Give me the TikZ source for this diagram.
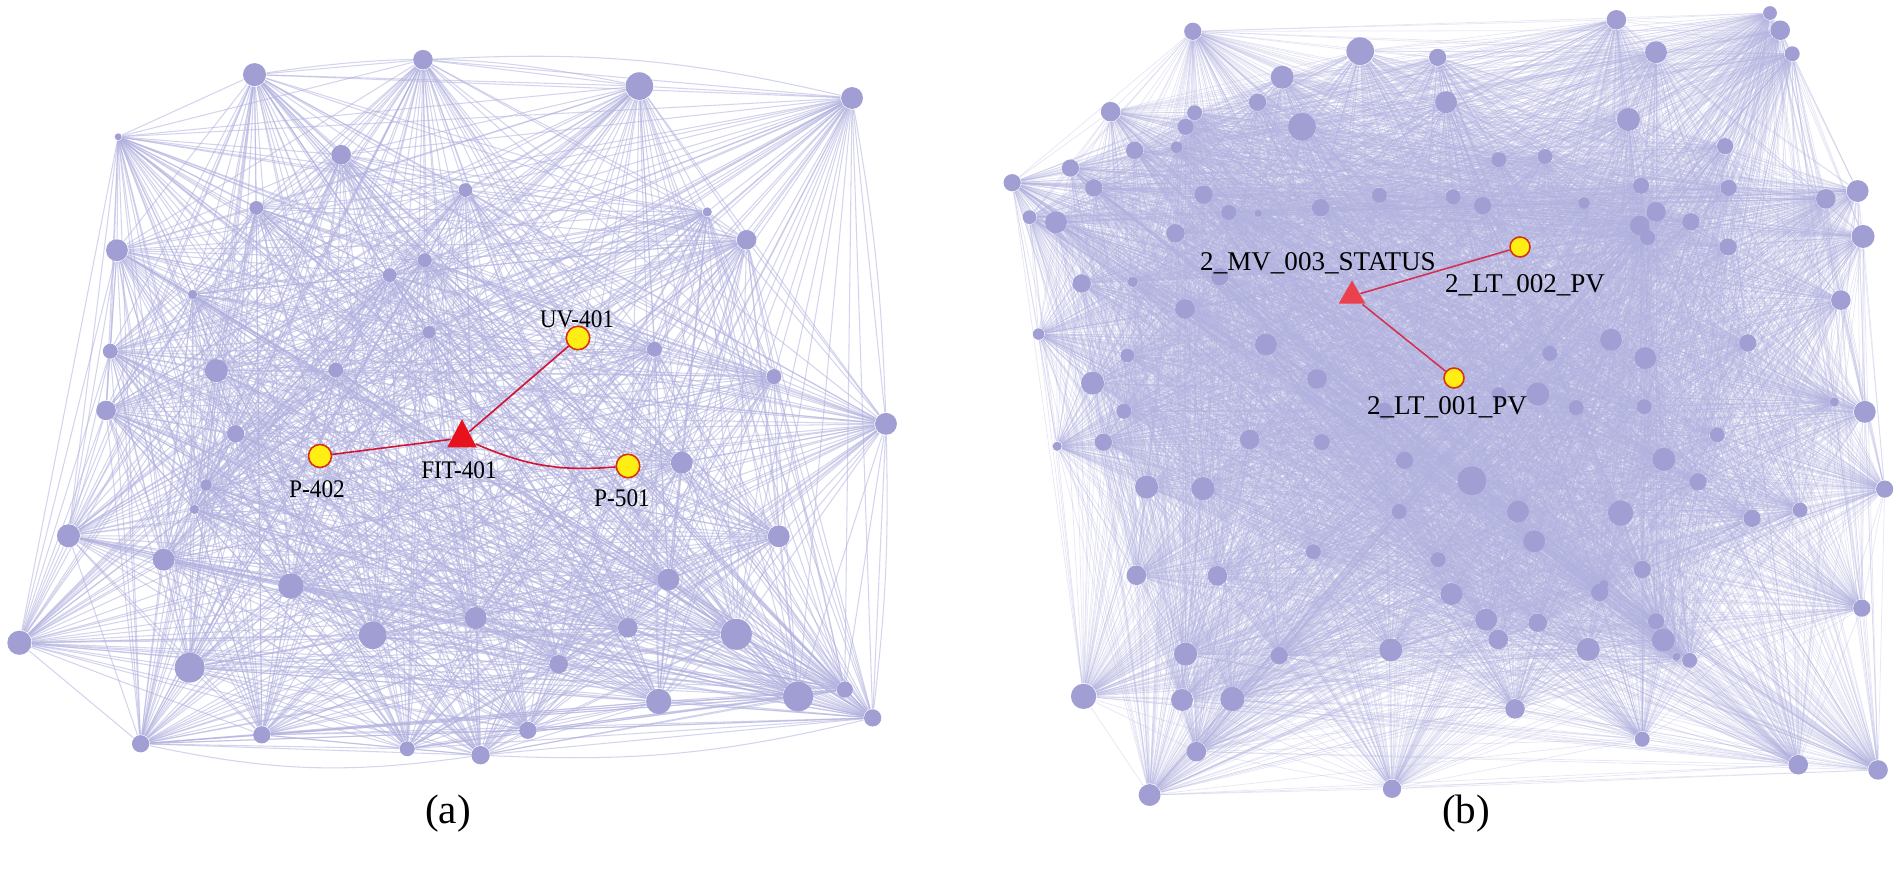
\documentclass[tikz,border=0pt]{standalone}
\usepackage{fontspec}
\setmainfont{Liberation Serif}
\newfontfamily\lblfont[FakeStretch=0.92]{Liberation Serif}
\usetikzlibrary{shapes.geometric}
\pgfdeclarelayer{bg}
\pgfsetlayers{bg,main}
\definecolor{nodecol}{RGB}{160,158,210}
\definecolor{edgecol}{RGB}{176,176,222}
\definecolor{hiyellow}{RGB}{255,238,20}
\definecolor{hiborder}{RGB}{215,50,20}
\definecolor{redA}{RGB}{232,18,28}
\definecolor{redB}{RGB}{236,64,76}
\definecolor{redlineA}{RGB}{210,20,50}
\definecolor{redlineB}{RGB}{210,50,80}
\tikzset{
  pnode/.style={circle,fill=nodecol,draw=none,inner sep=0pt},
  edgea/.style={draw=edgecol,line width=0.3pt,opacity=0.55},
  edgeb/.style={draw=edgecol,line width=0.22pt,opacity=0.3},
  hinode/.style={circle,fill=hiyellow,draw=hiborder,line width=0.45pt,inner sep=0pt},
  tri/.style={regular polygon,regular polygon sides=3,inner sep=0pt,draw=none},
  lbla/.style={font=\lblfont\fontsize{7.2}{8.5}\selectfont,inner sep=0pt,text=black},
  lblb/.style={font=\fontsize{7.7}{9}\selectfont,inner sep=0pt,text=black},
  caplbl/.style={font=\fontsize{11.7}{13}\selectfont,inner sep=0pt},
  redline/.style={line width=0.45pt}
}
\newcommand{\pn}[4]{\node[pnode,minimum size={#4*0.0115cm}] (#1) at (#2,#3) {};}
\begin{document}
\begin{tikzpicture}[x=0.01cm,y=-0.01cm]
\useasboundingbox (0,0) rectangle (1900,877);
% ---------------- panel (a) ----------------
\begin{scope}[xscale=0.606,yscale=0.4975]
\pn{a1}{420}{150}{20}
\pn{a2}{698}{120}{17}
\pn{a3}{1055}{173}{24}
\pn{a4}{1406}{197}{19}
\pn{a5}{195}{275}{6}
\pn{a6}{563}{311}{17}
\pn{a7}{768}{382}{12}
\pn{a8}{423}{418}{12}
\pn{a9}{1167}{426}{8}
\pn{a10}{193}{503}{19}
\pn{a11}{1232}{482}{17}
\pn{a12}{701}{523}{12}
\pn{a13}{643}{553}{12}
\pn{a14}{318}{592}{8}
\pn{a15}{708}{668}{11}
\pn{a16}{182}{706}{13}
\pn{a17}{1080}{702}{13}
\pn{a18}{357}{745}{20}
\pn{a19}{554}{744}{13}
\pn{a20}{1277}{757}{13}
\pn{a21}{175}{825}{17}
\pn{a22}{1462}{852}{19}
\pn{a23}{389}{872}{15}
\pn{a24}{1125}{930}{19}
\pn{a25}{340}{975}{10}
\pn{a26}{321}{1024}{8}
\pn{a27}{113}{1077}{20}
\pn{a28}{1285}{1078}{19}
\pn{a29}{270}{1125}{19}
\pn{a30}{480}{1178}{22}
\pn{a31}{1103}{1165}{19}
\pn{a32}{32}{1292}{21}
\pn{a33}{615}{1277}{24}
\pn{a34}{785}{1242}{19}
\pn{a35}{1036}{1262}{17}
\pn{a36}{1215}{1275}{27}
\pn{a37}{313}{1342}{26}
\pn{a38}{922}{1335}{16}
\pn{a39}{1087}{1410}{22}
\pn{a40}{1317}{1400}{26}
\pn{a41}{1394}{1386}{14}
\pn{a42}{1440}{1443}{15}
\pn{a43}{232}{1495}{15}
\pn{a44}{432}{1477}{15}
\pn{a45}{672}{1505}{13}
\pn{a46}{871}{1468}{15}
\pn{a47}{793}{1518}{16}
\end{scope}
% ---------------- panel (b) ----------------
\begin{scope}[shift={(960,0)},xscale=0.6,yscale=0.522]
\pn{b1}{388}{60}{15}
\pn{b2}{1094}{38}{17}
\pn{b3}{1350}{25}{12}
\pn{b4}{1367}{58}{17}
\pn{b5}{1387}{103}{13}
\pn{b6}{667}{98}{24}
\pn{b7}{796}{110}{15}
\pn{b8}{1160}{100}{19}
\pn{b9}{537}{148}{20}
\pn{b10}{496}{196}{15}
\pn{b11}{810}{196}{19}
\pn{b12}{251}{214}{17}
\pn{b13}{391}{216}{13}
\pn{b14}{376}{243}{14}
\pn{b15}{570}{243}{24}
\pn{b16}{1114}{229}{20}
\pn{b17}{291}{288}{15}
\pn{b18}{361}{282}{10}
\pn{b19}{898}{306}{13}
\pn{b20}{975}{300}{13}
\pn{b21}{1275}{280}{14}
\pn{b22}{184}{322}{15}
\pn{b23}{87}{350}{15}
\pn{b24}{223}{360}{15}
\pn{b25}{406}{373}{16}
\pn{b26}{699}{374}{13}
\pn{b27}{822}{377}{13}
\pn{b28}{871}{394}{15}
\pn{b29}{1040}{389}{10}
\pn{b30}{1135}{356}{14}
\pn{b31}{1281}{360}{14}
\pn{b32}{1496}{366}{19}
\pn{b33}{1443}{381}{17}
\pn{b34}{116}{416}{12}
\pn{b35}{160}{426}{19}
\pn{b36}{448}{407}{13}
\pn{b37}{497}{409}{6}
\pn{b38}{601}{398}{15}
\pn{b39}{1160}{406}{17}
\pn{b40}{1133}{432}{17}
\pn{b41}{1146}{455}{13}
\pn{b42}{1218}{425}{15}
\pn{b43}{359}{447}{16}
\pn{b44}{1280}{473}{15}
\pn{b45}{1505}{453}{20}
\pn{b46}{433}{530}{15}
\pn{b47}{203}{543}{16}
\pn{b48}{288}{540}{9}
\pn{b49}{375}{592}{17}
\pn{b50}{1468}{575}{17}
\pn{b51}{131}{640}{10}
\pn{b52}{510}{660}{19}
\pn{b53}{1085}{651}{19}
\pn{b54}{1313}{657}{15}
\pn{b55}{983}{677}{13}
\pn{b56}{1142}{686}{19}
\pn{b57}{279}{681}{12}
\pn{b58}{221}{734}{20}
\pn{b59}{595}{726}{17}
\pn{b60}{963}{755}{20}
\pn{b61}{898}{756}{13}
\pn{b62}{707}{788}{15}
\pn{b63}{1027}{781}{13}
\pn{b64}{1140}{779}{13}
\pn{b65}{1457}{770}{8}
\pn{b66}{1508}{789}{19}
\pn{b67}{273}{788}{13}
\pn{b68}{239}{847}{15}
\pn{b69}{162}{855}{8}
\pn{b70}{483}{842}{17}
\pn{b71}{603}{847}{14}
\pn{b72}{1262}{833}{13}
\pn{b73}{741}{882}{15}
\pn{b74}{1173}{880}{20}
\pn{b75}{853}{921}{25}
\pn{b76}{311}{933}{20}
\pn{b77}{405}{936}{20}
\pn{b78}{1230}{923}{15}
\pn{b79}{1541}{937}{15}
\pn{b80}{732}{980}{13}
\pn{b81}{930}{980}{19}
\pn{b82}{1101}{983}{22}
\pn{b83}{1320}{993}{15}
\pn{b84}{1400}{977}{13}
\pn{b85}{957}{1037}{19}
\pn{b86}{589}{1057}{13}
\pn{b87}{797}{1072}{13}
\pn{b88}{294}{1102}{17}
\pn{b89}{429}{1103}{17}
\pn{b90}{1137}{1091}{15}
\pn{b91}{819}{1138}{19}
\pn{b92}{1066}{1135}{15}
\pn{b93}{1073}{1120}{8}
\pn{b94}{877}{1187}{19}
\pn{b95}{963}{1193}{16}
\pn{b96}{1160}{1190}{14}
\pn{b97}{897}{1225}{17}
\pn{b98}{1172}{1226}{20}
\pn{b99}{1503}{1165}{15}
\pn{b100}{718}{1245}{20}
\pn{b101}{1047}{1244}{20}
\pn{b102}{376}{1253}{20}
\pn{b103}{532}{1256}{15}
\pn{b104}{1194}{1258}{7}
\pn{b105}{1216}{1265}{13}
\pn{b106}{206}{1334}{22}
\pn{b107}{370}{1341}{19}
\pn{b108}{454}{1339}{21}
\pn{b109}{925}{1358}{17}
\pn{b110}{394}{1440}{17}
\pn{b111}{1137}{1416}{13}
\pn{b112}{316}{1523}{19}
\pn{b113}{720}{1511}{16}
\pn{b114}{1397}{1465}{17}
\pn{b115}{1530}{1475}{17}
\end{scope}
% ---------------- background edges ----------------
\begin{pgfonlayer}{bg}
\foreach \i in {1,...,46}{%
  \pgfmathtruncatemacro\jfirst{\i+1}%
  \foreach \j in {\jfirst,...,47}{\draw[edgea] (a\i) -- (a\j);}}
\draw[edgea] (a43) to[bend right=10] (a47);
\draw[edgea] (a47) to[bend right=8] (a42);
\draw[edgea] (a1) to[bend left=10] (a3);
\draw[edgea] (a2) to[bend left=8] (a4);
\draw[edgea] (a4) to[bend left=4] (a22);
\draw[edgea] (a22) to[bend left=4] (a42);
\foreach \i in {1,...,114}{%
  \pgfmathtruncatemacro\jfirst{\i+1}%
  \foreach \j in {\jfirst,...,115}{\draw[edgeb] (b\i) -- (b\j);}}
\end{pgfonlayer}
% ---------------- highlighted part (a) ----------------
\node[hinode,minimum size=0.23cm] (p402) at (320,456) {};
\node[hinode,minimum size=0.235cm] (uv401) at (578,338) {};
\node[hinode,minimum size=0.235cm] (p501) at (628,466) {};
\node[tri,fill=redA,minimum size=0.34cm,yscale=1.1] (fit) at (462,438) {};
\draw[redline,redlineA] (fit) -- (uv401);
\draw[redline,redlineA] (fit) -- (p402);
\draw[redline,redlineA] (fit) to[bend right=14] (p501);
\node[lbla] (luv) at (577,319) {UV-401};
\node[lbla] (lp402) at (317,489) {P-402};
\node[lbla] (lfit) at (459,470) {FIT-401};
\node[lbla] (lp501) at (622,498) {P-501};
% ---------------- highlighted part (b) ----------------
\node[hinode,minimum size=0.2cm] (lt002) at (1520,247) {};
\node[hinode,minimum size=0.2cm] (lt001) at (1454,378) {};
\node[tri,fill=redB,minimum size=0.31cm] (mv003) at (1352,296) {};
\draw[redline,redlineB] (mv003) -- (lt002);
\draw[redline,redlineB] (mv003) -- (lt001);
\node[lblb] (lmv) at (1318,263) {2\_MV\_003\_STATUS};
\node[lblb] (llt2) at (1525,285) {2\_LT\_002\_PV};
\node[lblb] (llt1) at (1447,407) {2\_LT\_001\_PV};
% ---------------- captions ----------------
\node[caplbl] (capa) at (448,814) {(a)};
\node[caplbl] (capb) at (1466,814) {(b)};
\end{tikzpicture}
\end{document}
